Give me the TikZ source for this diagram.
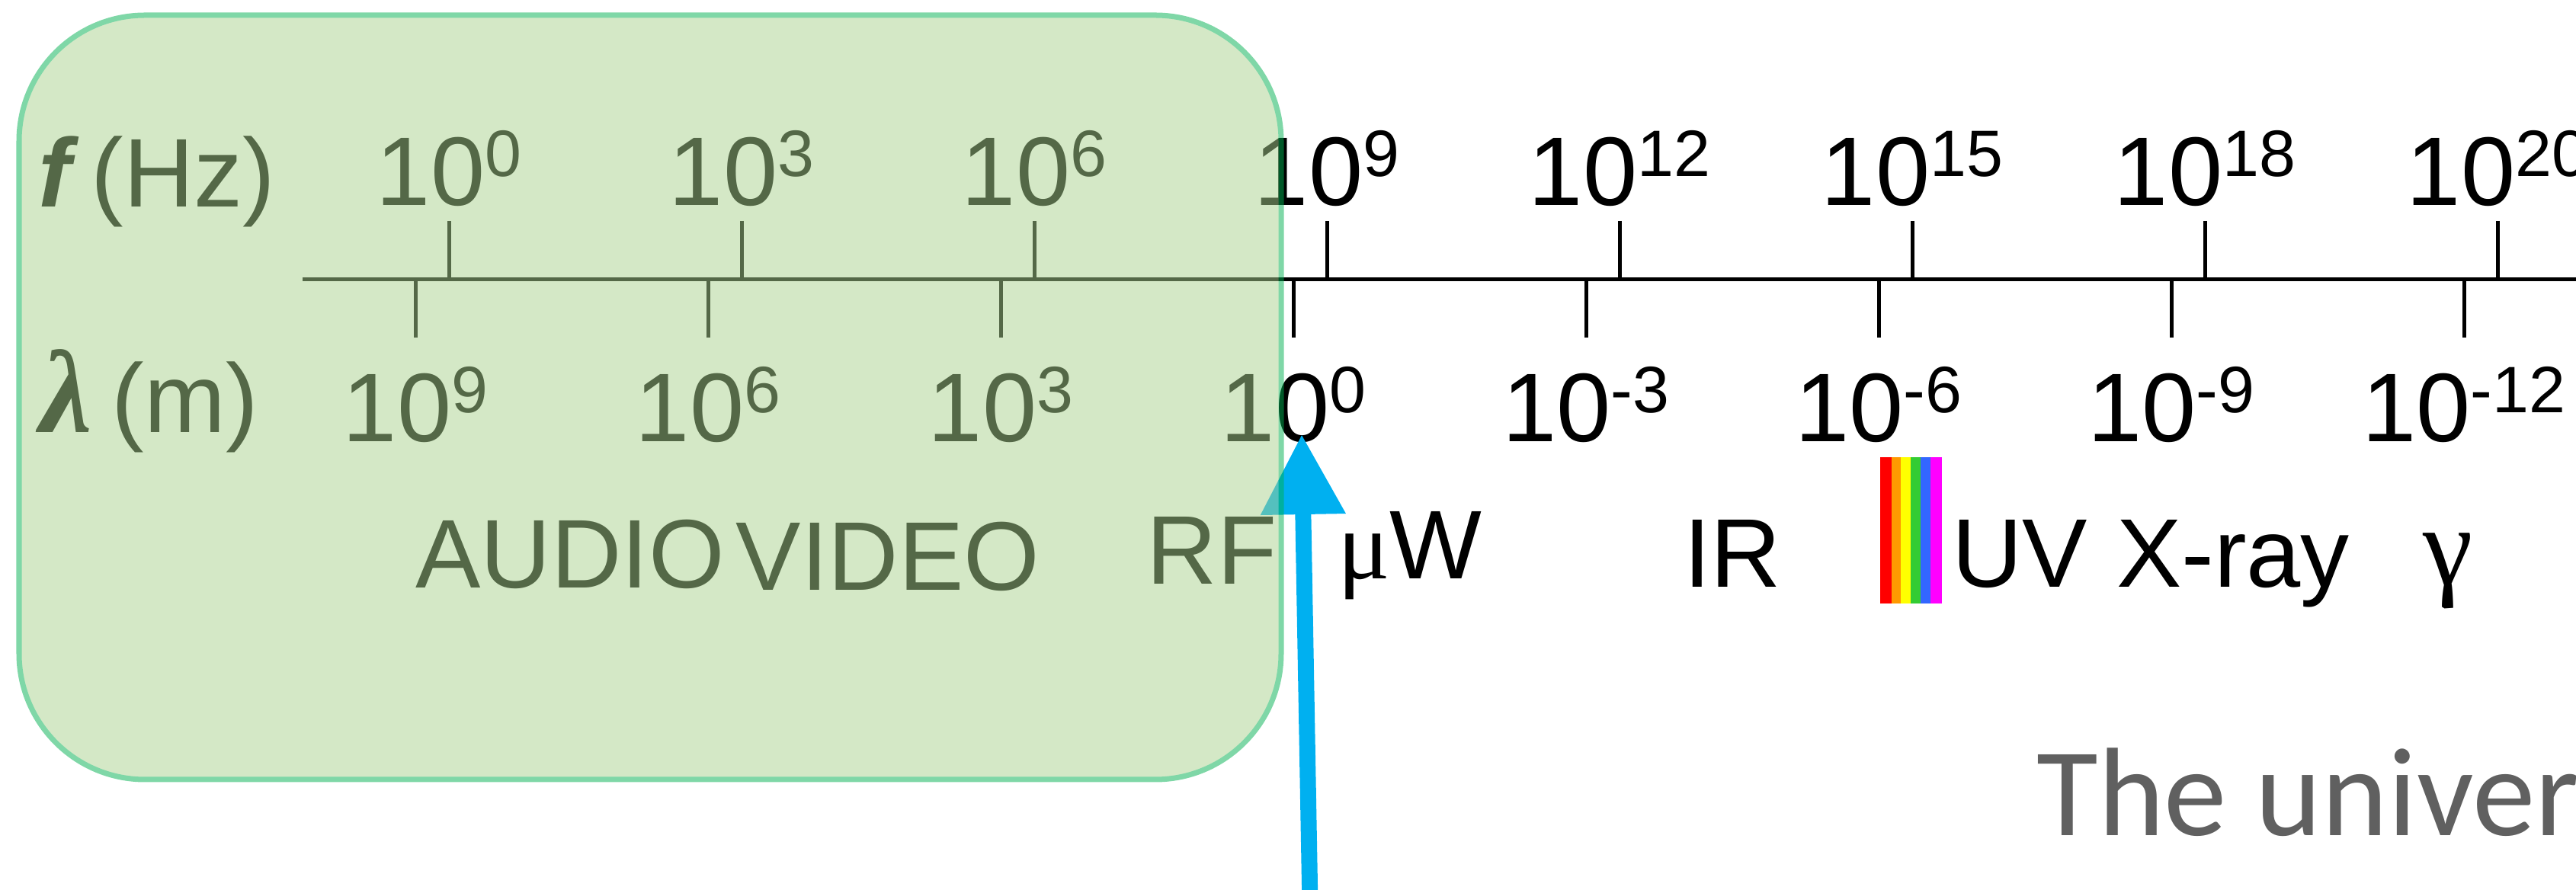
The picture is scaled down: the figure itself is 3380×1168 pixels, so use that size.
\documentclass[tikz,border=0pt]{standalone}
\usepackage{amsmath}
\usepackage{fontspec}
\usepackage{xcolor}
\usepackage{tikz}
\usetikzlibrary{arrows.meta}
\setmainfont{Liberation Sans}
\newfontfamily\slidefont{Carlito}
\newfontfamily\greekfont{Liberation Serif}
\definecolor{emBandFill}{HTML}{A9D18E}
\definecolor{emBandEdge}{HTML}{00B050}
\definecolor{emBlue}{HTML}{00B0F0}
\definecolor{emGray}{HTML}{606060}
\definecolor{emRed}{HTML}{FF0000}
\definecolor{emOrange}{HTML}{FF9900}
\definecolor{emYellow}{HTML}{FFFF00}
\definecolor{emGreen}{HTML}{33CC33}
\definecolor{emBlueV}{HTML}{3366FF}
\definecolor{emMagenta}{HTML}{FF00FF}
\newcommand{\pten}[1]{10\raisebox{0.3em}{\fontsize{24.5}{26}\selectfont #1}}

\begin{document}
\begin{tikzpicture}[
    x=0.01cm, y=-0.01cm,
    font=\fontsize{36.4}{42}\selectfont,
    axisline/.style={line width=0.05cm, draw=black},
    tickmark/.style={line width=0.05cm, draw=black},
    decade/.style={anchor=base, inner sep=0pt},
    unitlbl/.style={anchor=base west, inner sep=0pt},
    bandlbl/.style={anchor=base, inner sep=0pt},
    ptr/.style={-{Triangle[length=1.05cm, width=1.06cm]}, line width=0.21cm,
                draw=emBlue},
    lowband/.style={fill=emBandFill, draw=emBandEdge, line width=0.07cm,
                rounded corners=1.65cm},
    slidetitle/.style={anchor=base west, inner sep=0pt, text=emGray,
                font=\slidefont\fontsize{47}{52}\selectfont}
]
\useasboundingbox (0,0) rectangle (3380,1168);

% --- Axis with the two rows of decade ticks.
\coordinate (axL) at (397,367);
\coordinate (axR) at (3380,367);
\draw[axisline] (axL) -- (axR);

\node[unitlbl] (fHz) at (50,272) {\textbf{\textit{f}}\hspace{0.12em}(Hz)};
\node[unitlbl] (lamM) at (52,568)
    {{\greekfont\bfseries\itshape\fontsize{44}{46}\selectfont λ}\hspace{0.2em}(m)};

\foreach \e [count=\i from 0] in {0,3,6,9,12,15,18,20} {
    \pgfmathsetmacro{\xf}{589+384*\i}
    \draw[tickmark] (\xf,290) -- (\xf,367);
    \node[decade] (f\i) at (\xf,270) {\pten{\e}};
}
\foreach \e [count=\i from 0] in {9,6,3,0,-3,-6,-9,-12} {
    \pgfmathsetmacro{\xw}{545+384*\i}
    \draw[tickmark] (\xw,367) -- (\xw,443);
    \node[decade] (w\i) at (\xw,580) {\pten{\e}};
}

% --- Band names under the axis.
\node[bandlbl] (audio) at (748,772)  {AUDIO};
\node[bandlbl] (video) at (1165,775) {VIDEO};
\node[bandlbl] (rf)    at (1590,767) {RF};
\node[bandlbl] (mw)    at (1850,760) {{\greekfont μ}W};
\node[bandlbl] (ir)    at (2273,771) {IR};
\node[bandlbl] (uv)    at (2650,771) {UV};
\node[bandlbl] (xray)  at (2930,771) {X-ray};
\node[bandlbl] (gam)   at (3212,768) {{\greekfont\fontsize{42}{44}\selectfont γ}};

% --- Visible light strip.
\fill[emRed]     (2467,600) rectangle (2482,792);
\fill[emOrange]  (2482,600) rectangle (2494,792);
\fill[emYellow]  (2494,600) rectangle (2507,792);
\fill[emGreen]   (2507,600) rectangle (2520,792);
\fill[emBlueV]   (2520,600) rectangle (2533,792);
\fill[emMagenta] (2533,600) rectangle (2548,792);

\node[slidetitle] (title) at (2672,1097) {The univer};

% --- Pointer up to 10^0 m.
\coordinate (ptrS) at (1719,1190);
\coordinate (ptrT) at (1708,570);
\draw[ptr] (ptrS) -- (ptrT);

% --- Translucent box over the low-frequency end.
\begin{scope}[transparency group, opacity=0.5]
\draw[lowband] (25,20) rectangle (1681,1023);
\end{scope}

\end{tikzpicture}
\end{document}
